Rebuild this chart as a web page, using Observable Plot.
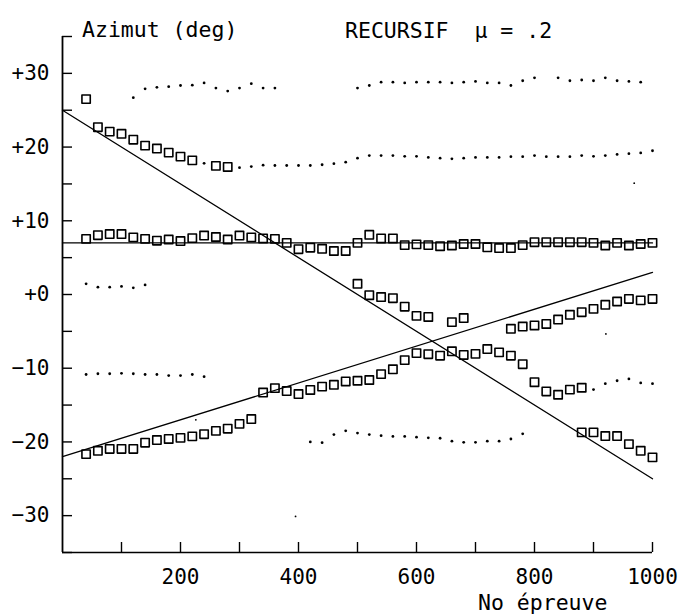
<!DOCTYPE html>
<html><head><meta charset="utf-8">
<script src="https://cdn.jsdelivr.net/npm/d3@7"></script>
<script src="https://cdn.jsdelivr.net/npm/@observablehq/plot@0.6"></script>
<style>
html,body{margin:0;padding:0;background:#fff;overflow:hidden}
svg text{font-family:"DejaVu Sans Mono",monospace}
</style></head><body><div id="chart"></div>
<script>
// ---- data (x = trial number, y = azimuth in degrees) ----
const yTicks  = [-35,-30,-25,-20,-15,-10,-5,0,5,10,15,20,25,30,35];
const yLabels = [-30,-20,-10,0,10,20,30];
const xTicks  = [100,200,300,400,500,600,700,800,900,1000];
const xLabels = [200,400,600,800,1000];

// straight reference lines (end points)
const lineX    = [0, 1000];
const lineDesc = [25, -25];
const lineFlat = [7, 7];
const lineAsc  = [-22, 3];

// square markers
const squaresA = [[40,26.5],[60,22.7],[80,22.1],[100,21.8],[120,21.0],[140,20.2],[160,19.8],[180,19.25],[200,18.7],[220,18.2],[260,17.45],[280,17.3]];
const squaresB = [[40,7.55],[60,8.05],[80,8.2],[100,8.2],[120,7.75],[140,7.55],[160,7.3],[180,7.45],[200,7.25],[220,7.65],[240,8.0],[260,7.8],[280,7.45],[300,8.0],[320,7.75],[340,7.6],[360,7.55],[380,7.0],[400,6.15],[420,6.35],[440,6.2],[460,5.9],[480,5.9],[500,7.0],[520,8.1],[540,7.6],[560,7.6],[580,6.7],[600,6.8],[620,6.7],[640,6.55],[660,6.65],[680,6.85],[700,6.85],[720,6.4],[740,6.3],[760,6.3],[780,6.7],[800,7.1],[820,7.1],[840,7.1],[860,7.1],[880,7.1],[900,7.0],[920,6.65],[940,7.0],[960,6.65],[980,6.85],[1000,7.0]];
const squaresC = [[500,1.45],[520,-0.1],[540,-0.35],[560,-0.5],[580,-1.65],[600,-2.9],[620,-3.05],[660,-3.75],[680,-3.2]];
const squaresD = [[40,-21.65],[60,-21.2],[80,-20.95],[100,-20.95],[120,-20.95],[140,-20.1],[160,-19.75],[180,-19.6],[200,-19.45],[220,-19.25],[240,-18.95],[260,-18.5],[280,-18.2],[300,-17.55],[320,-16.9],[340,-13.3],[360,-12.7],[380,-13.1],[400,-13.5],[420,-12.95],[440,-12.5],[460,-12.25],[480,-11.8],[500,-11.7],[520,-11.6],[540,-10.8],[560,-10.15],[580,-8.9],[600,-7.95],[620,-8.1],[640,-8.3],[660,-7.7],[680,-8.2],[700,-8.05],[720,-7.4],[740,-7.85],[760,-8.3],[780,-9.45],[800,-11.9],[820,-13.15],[840,-13.6],[860,-12.9],[880,-12.65]];
const squaresE = [[760,-4.65],[780,-4.35],[800,-4.2],[820,-4.0],[840,-3.4],[860,-2.75],[880,-2.4],[900,-1.95],[920,-1.4],[940,-0.95],[960,-0.6],[980,-0.8],[1000,-0.6]];
const squaresF = [[880,-18.7],[900,-18.7],[920,-19.2],[940,-19.2],[960,-20.3],[980,-21.2],[1000,-22.1]];

// dot markers
const dotsTop = [[120,26.7],[140,27.9],[160,28.1],[180,28.2],[200,28.35],[220,28.4],[240,28.7],[260,28.0],[280,27.6],[300,28.0],[320,28.6],[340,28.0],[360,28.0],[500,28.0],[520,28.35],[540,28.8],[560,28.8],[580,28.7],[600,28.8],[620,28.8],[640,28.8],[660,28.7],[680,28.8],[700,28.9],[720,28.7],[740,28.7],[760,28.35],[780,29.0],[800,29.4],[840,29.4],[860,29.0],[880,29.1],[900,29.0],[920,29.4],[940,29.0],[960,28.9],[980,28.8]];
const dotsMid = [[240,17.8],[300,17.2],[320,17.35],[340,17.55],[360,17.5],[380,17.5],[400,17.5],[420,17.5],[440,17.6],[460,17.75],[480,17.95],[500,18.5],[520,18.85],[540,18.85],[560,18.85],[580,18.75],[600,18.75],[620,18.6],[640,18.5],[660,18.4],[680,18.5],[700,18.6],[720,18.6],[740,18.6],[760,18.7],[780,18.7],[800,18.85],[820,18.7],[840,18.7],[860,18.7],[880,18.85],[900,18.75],[920,18.85],[940,19.0],[960,19.1],[980,19.2],[1000,19.5]];
const dotsPlus1 = [[40,1.45],[60,1.0],[80,1.0],[100,1.1],[120,0.9],[140,1.3]];
const dotsMinus11 = [[40,-10.85],[60,-10.75],[80,-10.75],[100,-10.7],[120,-10.75],[140,-10.85],[160,-10.85],[180,-11.0],[200,-11.0],[220,-10.85],[240,-11.15]];
const dotsMinus19 = [[420,-20.0],[440,-20.1],[460,-19.0],[480,-18.5],[500,-18.8],[520,-19.0],[540,-19.15],[560,-19.25],[580,-19.25],[600,-19.35],[620,-19.45],[640,-19.5],[660,-19.9],[680,-20.05],[700,-20.05],[720,-19.9],[740,-19.9],[760,-19.6],[780,-18.9]];
const dotsMinus12 = [[900,-12.9],[920,-12.1],[940,-11.7],[960,-11.45],[980,-12.0],[1000,-12.1]];
const dotsStray = [[921,-5.35],[969,15.1],[226,-17.0],[395,-30.1]];

// ---- build tables ----
const pts = arr => arr.map(([x, y]) => ({x, y}));
const squares = [squaresA, squaresB, squaresC, squaresD, squaresE, squaresF].flatMap(pts);
const dots = [dotsTop, dotsMid, dotsPlus1, dotsMinus11, dotsMinus19, dotsMinus12].flatMap(pts);
const stray = pts(dotsStray);
const lines = [
  ...lineX.map((x, i) => ({x, y: lineDesc[i], k: "desc"})),
  ...lineX.map((x, i) => ({x, y: lineFlat[i], k: "flat"})),
  ...lineX.map((x, i) => ({x, y: lineAsc[i], k: "asc"}))
];
const fmtY = d => (d >= 0 ? "+" : "\u2212") + Math.abs(d);

const chart = Plot.plot({
  width: 678, height: 616,
  marginLeft: 62, marginRight: 26, marginTop: 36, marginBottom: 64,
  x: {domain: [0, 1000], label: null},
  y: {domain: [-35, 35], label: null},
  style: {fontFamily: "DejaVu Sans Mono", fontSize: "21px", color: "black", background: "white", overflow: "visible"},
  marks: [
    Plot.axisX({ticks: xTicks, tickSize: -10, tickFormat: () => "", label: null, strokeWidth: 1.4}),
    Plot.axisX({ticks: xLabels, tickSize: 0, tickPadding: 17, tickFormat: d => String(d), label: null}),
    Plot.axisY({ticks: yTicks, tickSize: -10, tickFormat: () => "", label: null, strokeWidth: 1.4}),
    Plot.axisY({ticks: yLabels, tickSize: 0, tickPadding: 13, tickFormat: fmtY, label: null}),
    Plot.ruleX([0], {stroke: "black", strokeWidth: 1.8}),
    Plot.ruleY([-35], {stroke: "black", strokeWidth: 1.6}),
    Plot.line(lines, {x: "x", y: "y", z: "k", stroke: "black", strokeWidth: 1.3}),
    Plot.dot(dots, {x: "x", y: "y", r: 1.4, fill: "black"}),
    Plot.dot(stray, {x: "x", y: "y", r: 0.9, fill: "black"}),
    Plot.dot(squares, {x: "x", y: "y", symbol: "square", r: 4.7, stroke: "black", strokeWidth: 1.6, fill: "none", strokeLinejoin: "round"})
  ]
});

const svg = d3.select(chart);
const addText = (x, y, t) => svg.append("text").attr("x", x).attr("y", y)
  .attr("text-anchor", "start").attr("font-size", 21.5).attr("fill", "black")
  .style("white-space", "pre").text(t);
addText(82, 37, "Azimut (deg)");
addText(345, 38, "RECURSIF  \u03bc = .2");
addText(478, 610, "No \u00e9preuve");

document.getElementById("chart").appendChild(chart);
</script></body></html>
